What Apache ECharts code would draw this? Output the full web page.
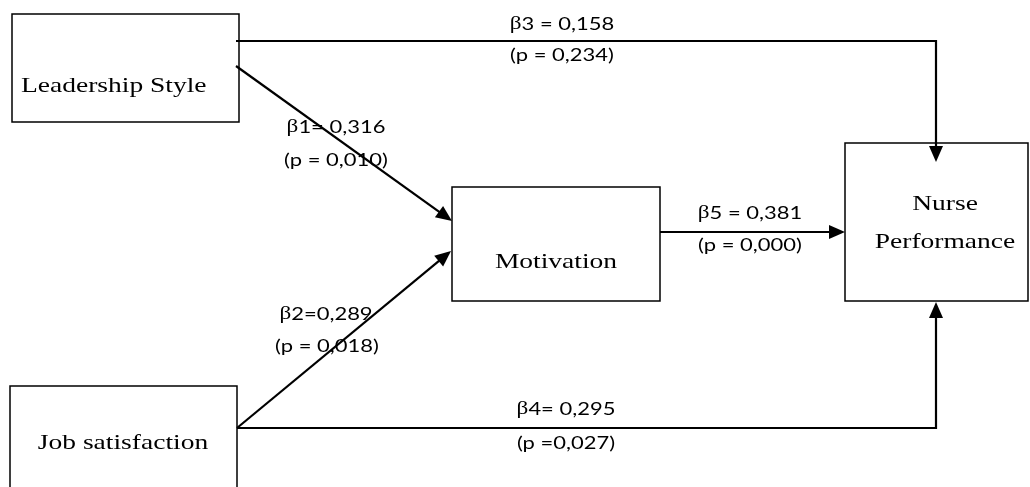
<!DOCTYPE html>
<html>
<head>
<meta charset="utf-8">
<script src="https://cdn.jsdelivr.net/npm/echarts@6/dist/echarts.min.js"></script>
<style>
html,body{margin:0;padding:0;background:#fff;}
#chart{width:1030px;height:487px;}
</style>
</head>
<body>
<div id="chart"></div>
<script>
// ---- data ----
const nodeNames = ['Leadership Style', 'Motivation', 'Nurse Performance', 'Job satisfaction'];
const pathIds = ['β1', 'β2', 'β3', 'β4', 'β5'];
const betaValues = ['0,316', '0,289', '0,158', '0,295', '0,381'];
const pValues = ['0,010', '0,018', '0,234', '0,027', '0,000'];
const betaSeparators = ['= ', '=', ' = ', '= ', ' = '];
const pSeparators = [' = ', ' = ', ' = ', ' =', ' = '];

// ---- layout (diagram coordinates on hidden value axes) ----
const boxLayout = [[12, 14, 239, 122], [452, 187, 660, 301], [845, 143, 1028, 301], [10, 386, 237, 500]];
const nodeTextLayout = [
  {x: 21, y: [86], align: 'left', lines: ['Leadership Style']},
  {x: 556, y: [262], align: 'center', lines: ['Motivation']},
  {x: 945, y: [204, 242], align: 'center', lines: ['Nurse', 'Performance']},
  {x: 123, y: [443], align: 'center', lines: ['Job satisfaction']}
];
const pathLayout = [
  [[236, 66], [452, 221]],
  [[237, 428], [451, 251]],
  [[236, 41], [936, 41], [936, 162]],
  [[237, 428], [936, 428], [936, 302]],
  [[660, 232], [845, 232]]
];
const labelLayout = [[336, 127, 336, 160], [326, 314, 327, 346], [562, 24, 562, 55], [566, 409, 566, 443], [750, 213, 750, 245]];

const SANS = 'Lato';
const SERIF = 'Liberation Serif';
const SX = 1.22;

const chart = echarts.init(document.getElementById('chart'), null, {renderer: 'canvas'});

function boxRender(params, api) {
  const i = api.value(0);
  const b = boxLayout[i];
  const p0 = api.coord([b[0], b[1]]);
  const p1 = api.coord([b[2], b[3]]);
  const t = nodeTextLayout[i];
  const children = [{
    type: 'rect',
    shape: {x: p0[0], y: p0[1], width: p1[0] - p0[0], height: p1[1] - p0[1]},
    style: {fill: 'none', stroke: '#000', lineWidth: 1.5}
  }];
  t.lines.forEach((ln, k) => {
    const c = api.coord([t.x, t.y[k]]);
    children.push({
      type: 'text', x: c[0], y: c[1], scaleX: 1.25,
      style: {text: ln, fontFamily: SERIF, fontSize: 22, fill: '#000', align: t.align, verticalAlign: 'middle'}
    });
  });
  return {type: 'group', children};
}

function pathRender(params, api) {
  const i = api.value(0);
  const pts = pathLayout[i].map(p => api.coord(p));
  const n = pts.length;
  const tip = pts[n - 1];
  const prev = pts[n - 2];
  const dx = tip[0] - prev[0], dy = tip[1] - prev[1];
  const len = Math.sqrt(dx * dx + dy * dy);
  const ux = dx / len, uy = dy / len;
  const L = 16, W = 7;
  const bx = tip[0] - ux * L, by = tip[1] - uy * L;
  const lineEnd = [tip[0] - ux * (L - 2), tip[1] - uy * (L - 2)];
  const linePts = pts.slice(0, n - 1).concat([lineEnd]);
  return {
    type: 'group',
    children: [
      {type: 'polyline', shape: {points: linePts}, style: {stroke: '#000', lineWidth: 2.2, fill: null}},
      {type: 'polygon', shape: {points: [tip, [bx - uy * W, by + ux * W], [bx + uy * W, by - ux * W]]}, style: {fill: '#000'}}
    ]
  };
}

function labelRender(params, api) {
  const i = api.value(0);
  const l = labelLayout[i];
  const c1 = api.coord([l[0], l[1]]);
  const c2 = api.coord([l[2], l[3]]);
  const rich = {
    g: {fontFamily: SERIF, fontSize: 19, fill: '#000'},
    n: {fontFamily: SANS, fontSize: 18, fill: '#000'}
  };
  const betaText = '{g|' + pathIds[i].charAt(0) + '}{n|' + pathIds[i].slice(1) + betaSeparators[i] + betaValues[i] + '}';
  const pText = '(p' + pSeparators[i] + pValues[i] + ')';
  return {
    type: 'group',
    children: [
      {type: 'text', x: c1[0], y: c1[1], scaleX: SX,
        style: {text: betaText, rich: rich, fontFamily: SANS, fontSize: 18, align: 'center', verticalAlign: 'middle', fill: '#000'}},
      {type: 'text', x: c2[0], y: c2[1], scaleX: SX,
        style: {text: pText, fontFamily: SANS, fontSize: 18, align: 'center', verticalAlign: 'middle', fill: '#000'}}
    ]
  };
}

chart.setOption({
  backgroundColor: '#fff',
  animation: false,
  grid: {left: 0, right: 0, top: 0, bottom: 0},
  xAxis: {type: 'value', min: 0, max: 1030, show: false},
  yAxis: {type: 'value', min: 0, max: 487, inverse: true, show: false},
  series: [
    {type: 'custom', name: 'nodes', renderItem: boxRender, data: nodeNames.map((d, i) => [i]), z: 1},
    {type: 'custom', name: 'paths', renderItem: pathRender, data: pathIds.map((d, i) => [i]), z: 2},
    {type: 'custom', name: 'labels', renderItem: labelRender, data: pathIds.map((d, i) => [i]), z: 3}
  ]
});
</script>
</body>
</html>
